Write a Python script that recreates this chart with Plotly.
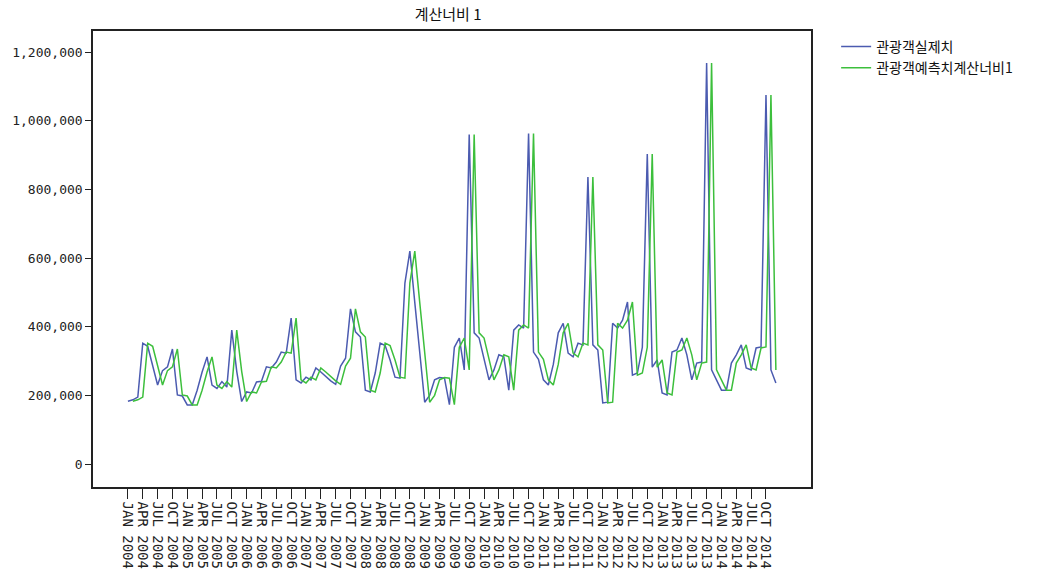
import plotly.graph_objects as go

# Monthly visitor counts, Jan 2004 - Dec 2014
months = [f"{m} {y}" for y in range(2004, 2015)
          for m in ["JAN", "FEB", "MAR", "APR", "MAY", "JUN",
                    "JUL", "AUG", "SEP", "OCT", "NOV", "DEC"]]

actual = [
    183000, 187000, 195000, 352000, 343000, 290000, 230000, 272000, 283000, 335000, 201000, 198000,
    172000, 172000, 215000, 268000, 312000, 230000, 220000, 240000, 224000, 390000, 270000, 182000,
    210000, 207000, 239000, 241000, 283000, 280000, 297000, 326000, 323000, 425000, 245000, 236000,
    253000, 245000, 280000, 268000, 255000, 242000, 232000, 285000, 308000, 452000, 385000, 370000,
    215000, 210000, 265000, 352000, 345000, 303000, 253000, 250000, 527000, 620000, 470000, 325000,
    180000, 200000, 245000, 252000, 250000, 173000, 340000, 367000, 274000, 960000, 382000, 367000,
    303000, 245000, 274000, 318000, 312000, 215000, 390000, 405000, 396000, 963000, 326000, 305000,
    245000, 230000, 290000, 382000, 410000, 323000, 312000, 352000, 347000, 836000, 347000, 332000,
    178000, 180000, 410000, 396000, 419000, 472000, 259000, 265000, 340000, 903000, 282000, 303000,
    207000, 201000, 326000, 332000, 367000, 318000, 245000, 294000, 297000, 1168000, 274000, 245000,
    215000, 215000, 294000, 318000, 347000, 280000, 274000, 338000, 341000, 1075000, 274000, 236000,
]

# Span-1 forecast: each month carries the previous month's actual value
forecast = [
    None, 183000, 187000, 195000, 352000, 343000, 290000, 230000, 272000, 283000, 335000, 201000,
    198000, 172000, 172000, 215000, 268000, 312000, 230000, 220000, 240000, 224000, 390000, 270000,
    182000, 210000, 207000, 239000, 241000, 283000, 280000, 297000, 326000, 323000, 425000, 245000,
    236000, 253000, 245000, 280000, 268000, 255000, 242000, 232000, 285000, 308000, 452000, 385000,
    370000, 215000, 210000, 265000, 352000, 345000, 303000, 253000, 250000, 527000, 620000, 470000,
    325000, 180000, 200000, 245000, 252000, 250000, 173000, 340000, 367000, 274000, 960000, 382000,
    367000, 303000, 245000, 274000, 318000, 312000, 215000, 390000, 405000, 396000, 963000, 326000,
    305000, 245000, 230000, 290000, 382000, 410000, 323000, 312000, 352000, 347000, 836000, 347000,
    332000, 178000, 180000, 410000, 396000, 419000, 472000, 259000, 265000, 340000, 903000, 282000,
    303000, 207000, 201000, 326000, 332000, 367000, 318000, 245000, 294000, 297000, 1168000, 274000,
    245000, 215000, 215000, 294000, 318000, 347000, 280000, 274000, 338000, 341000, 1075000, 274000,
]

series_names = ["관광객실제치", "관광객예측치계산너비1"]
series_colors = ["#4b5bb0", "#3cbf3c"]

x = list(range(len(months)))
tick_idx = list(range(0, len(months), 3))
tick_text = [months[i] for i in tick_idx]

fig = go.Figure()
for name, vals, col in zip(series_names, [actual, forecast], series_colors):
    fig.add_trace(go.Scatter(x=x, y=vals, mode="lines", name=name,
                             line=dict(color=col, width=1.5)))

fig.update_layout(
    width=1047, height=586,
    paper_bgcolor="white", plot_bgcolor="white",
    margin=dict(l=91, r=236, t=31, b=99),
    title=dict(text="계산너비 1", x=0.428, xanchor="center", y=0.975, yanchor="middle",
               font=dict(family="Noto Sans CJK KR", size=15, color="#111")),
    font=dict(family="Noto Sans CJK KR", color="#111"),
    legend=dict(x=1.035, y=1.0, xanchor="left", yanchor="top",
                font=dict(size=14, color="#111"), bgcolor="rgba(0,0,0,0)",
                tracegroupgap=2),
    showlegend=True,
)

fig.update_xaxes(
    range=[-7.06, 138.1], tickmode="array", tickvals=tick_idx, ticktext=tick_text,
    tickangle=90, ticks="outside", ticklen=10, tickcolor="#222", tickwidth=1,
    showline=True, linecolor="#222", linewidth=1.5, mirror=True, showgrid=False,
    zeroline=False, tickfont=dict(family="DejaVu Sans Mono", size=14, color="#222"),
)
fig.update_yaxes(
    range=[-67000, 1261300], tickmode="array",
    tickvals=[0, 200000, 400000, 600000, 800000, 1000000, 1200000],
    tickformat=",", ticks="outside", ticklen=6, tickcolor="#222",
    showline=True, linecolor="#222", linewidth=1.5, mirror=True, showgrid=False,
    zeroline=False, tickfont=dict(family="DejaVu Sans Mono", size=13, color="#222"),
)

fig.write_html("out.html")
